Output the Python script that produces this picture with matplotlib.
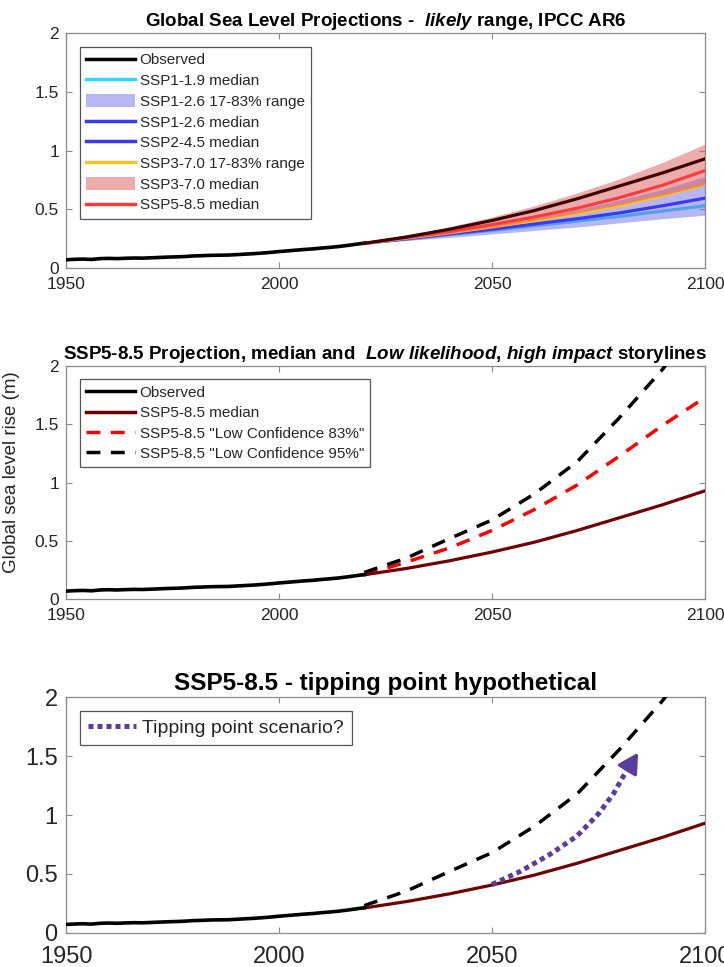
import matplotlib
matplotlib.use('Agg')
import matplotlib.pyplot as plt
from matplotlib.lines import Line2D
from matplotlib.patches import Patch

plt.rcParams['font.family'] = ['Liberation Sans', 'DejaVu Sans']
plt.rcParams['mathtext.fontset'] = 'custom'
plt.rcParams['mathtext.rm'] = 'Liberation Sans:bold'
plt.rcParams['mathtext.it'] = 'Liberation Sans:italic:bold'
plt.rcParams['mathtext.bf'] = 'Liberation Sans:bold'

# ---------------- data ----------------
obs_years = [1950, 1952, 1954, 1956, 1958, 1960, 1962, 1964, 1966, 1968, 1970, 1972,
             1974, 1976, 1978, 1980, 1982, 1984, 1986, 1988, 1990, 1992, 1994, 1996,
             1998, 2000, 2002, 2004, 2006, 2008, 2010, 2012, 2014, 2016, 2018, 2020]
obs_vals = [0.070, 0.074, 0.076, 0.073, 0.080, 0.082, 0.080, 0.083, 0.085, 0.084, 0.087, 0.090,
            0.093, 0.095, 0.098, 0.103, 0.105, 0.108, 0.109, 0.110, 0.114, 0.118, 0.122, 0.127,
            0.133, 0.140, 0.146, 0.152, 0.158, 0.163, 0.170, 0.176, 0.183, 0.192, 0.202, 0.212]

proj_years = [2020, 2030, 2040, 2050, 2060, 2070, 2080, 2090, 2100]
ssp119_med = [0.21, 0.245, 0.285, 0.32, 0.36, 0.40, 0.44, 0.485, 0.53]
ssp126_med = [0.21, 0.25, 0.29, 0.33, 0.375, 0.42, 0.47, 0.53, 0.595]
ssp245_med = [0.21, 0.255, 0.30, 0.35, 0.405, 0.465, 0.53, 0.615, 0.71]
ssp370_med = [0.21, 0.26, 0.31, 0.37, 0.435, 0.51, 0.60, 0.705, 0.83]
ssp585_med = [0.21, 0.265, 0.33, 0.405, 0.49, 0.59, 0.70, 0.81, 0.93]
ssp126_lo = [0.21, 0.235, 0.26, 0.29, 0.32, 0.35, 0.385, 0.42, 0.45]
ssp126_hi = [0.21, 0.26, 0.31, 0.37, 0.43, 0.50, 0.58, 0.67, 0.78]
ssp585_lo = [0.21, 0.25, 0.295, 0.345, 0.405, 0.47, 0.54, 0.62, 0.71]
ssp585_hi = [0.21, 0.275, 0.35, 0.435, 0.53, 0.64, 0.76, 0.90, 1.055]

lowconf83 = [0.21, 0.32, 0.44, 0.59, 0.77, 0.98, 1.23, 1.49, 1.73]
lowconf95 = [0.23, 0.355, 0.52, 0.68, 0.905, 1.18, 1.56, 1.97, 2.45]

tip_years = [2050, 2056.6, 2063.6, 2069.9, 2075, 2078.5, 2081, 2082.6]
tip_vals = [0.41, 0.52, 0.665, 0.82, 1.01, 1.18, 1.34, 1.43]
tip_arrow_end = (2084.3, 1.53)

xticks = [1950, 2000, 2050, 2100]
yticks = [0, 0.5, 1, 1.5, 2]
ytick_labels = ['0', '0.5', '1', '1.5', '2']

legend1_labels = ['Observed', 'SSP1-1.9 median', 'SSP1-2.6 17-83% range', 'SSP1-2.6 median',
                  'SSP2-4.5 median', 'SSP3-7.0 17-83% range', 'SSP3-7.0 median', 'SSP5-8.5 median']
legend2_labels = ['Observed', 'SSP5-8.5 median', 'SSP5-8.5 "Low Confidence 83%"',
                  'SSP5-8.5 "Low Confidence 95%"']
legend3_labels = ['Tipping point scenario?']

title1 = r'Global Sea Level Projections -  $\mathit{likely}$ range, IPCC AR6'
title2 = r'SSP5-8.5 Projection, median and  $\mathit{Low\ likelihood{,}\ high\ impact}$ storylines'
title3 = 'SSP5-8.5 - tipping point hypothetical'
ylabel = 'Global sea level rise (m)'

# ---------------- styles ----------------
c_cyan = '#33d6f5'
c_blue = '#3a3af5'
c_orange = '#ffc02a'
c_red = '#ff3b3b'
c_dark = '#3d0000'
c_band_blue = '#6e6ee6'
c_band_red = '#dc5a5a'
c_median = '#6e0000'
c_purple = '#5a3d9a'
spine_c = '#8c8c8c'
text_c = '#262626'

fig = plt.figure(figsize=(7.24, 9.67), dpi=100)
L, W = 66 / 724, 639 / 724
ax1 = fig.add_axes([L, 1 - 268 / 967, W, 234.7 / 967])
ax2 = fig.add_axes([L, 1 - 599.3 / 967, W, 233.3 / 967])
ax3 = fig.add_axes([L, 1 - 932.7 / 967, W, 235.4 / 967])


def style(ax, fs, xpad, ypad):
    ax.set_xlim(1950, 2100)
    ax.set_ylim(0, 2)
    ax.set_xticks(xticks)
    ax.set_yticks(yticks)
    ax.set_yticklabels(ytick_labels)
    ax.tick_params(direction='in', top=True, right=True, length=4, width=0.8,
                   color=spine_c, labelsize=fs, labelcolor=text_c)
    ax.tick_params(axis='x', pad=xpad)
    ax.tick_params(axis='y', pad=ypad)
    for s in ax.spines.values():
        s.set_color(spine_c)
        s.set_linewidth(0.9)


def leg(ax, handles, labels, fs, hl, ls):
    lg = ax.legend(handles, labels, loc='upper left', bbox_to_anchor=(0.022, 0.943),
                   borderaxespad=0, fontsize=fs, handlelength=hl, handletextpad=0.3,
                   labelspacing=ls, borderpad=0.4, fancybox=False, framealpha=1,
                   edgecolor='#555555', handleheight=0.9)
    lg.get_frame().set_linewidth(0.9)
    for t in lg.get_texts():
        t.set_color(text_c)
    return lg


# ---------------- panel 1 ----------------
ax1.plot(obs_years, obs_vals, color='black', lw=2.6, zorder=5)
ax1.plot(proj_years, ssp119_med, color=c_cyan, lw=2.3, zorder=2)
ax1.fill_between(proj_years, ssp126_lo, ssp126_hi, color=c_band_blue, alpha=0.5, lw=0, zorder=3)
ax1.plot(proj_years, ssp126_med, color=c_blue, lw=2.3, zorder=4)
ax1.plot(proj_years, ssp245_med, color=c_orange, lw=2.3, zorder=4)
ax1.fill_between(proj_years, ssp585_lo, ssp585_hi, color=c_band_red, alpha=0.5, lw=0, zorder=5)
ax1.plot(proj_years, ssp370_med, color=c_red, lw=2.3, zorder=6)
ax1.plot(proj_years, ssp585_med, color=c_dark, lw=2.3, zorder=7)
style(ax1, 12.5, 6.5, 5)
ax1.set_title(title1, fontsize=13.5, fontweight='bold', color='black', pad=5)
h1 = [Line2D([], [], color='black', lw=2.5),
      Line2D([], [], color=c_cyan, lw=2.5),
      Patch(facecolor=c_band_blue, alpha=0.5, lw=0),
      Line2D([], [], color=c_blue, lw=2.5),
      Line2D([], [], color=c_blue, lw=2.5),
      Line2D([], [], color=c_orange, lw=2.5),
      Patch(facecolor=c_band_red, alpha=0.5, lw=0),
      Line2D([], [], color=c_red, lw=2.5)]
leg(ax1, h1, legend1_labels, 11, 3.2, 0.4)

# ---------------- panel 2 ----------------
ax2.plot(obs_years, obs_vals, color='black', lw=2.6, zorder=5)
ax2.plot(proj_years, ssp585_med, color=c_median, lw=2.3, zorder=4)
ax2.plot(proj_years, lowconf83, color='red', lw=2.5, dashes=(4, 3), zorder=3)
ax2.plot(proj_years, lowconf95, color='black', lw=2.5, dashes=(4, 3), zorder=3)
style(ax2, 12.5, 6.5, 5)
ax2.set_title(title2, fontsize=13.5, fontweight='bold', color='black', pad=5)
ax2.set_ylabel(ylabel, fontsize=13.5, color=text_c)
ax2.yaxis.set_label_coords(-0.072, 0.546)
h2 = [Line2D([], [], color='black', lw=2.5),
      Line2D([], [], color=c_median, lw=2.5),
      Line2D([], [], color='red', lw=2.5, dashes=(4, 3)),
      Line2D([], [], color='black', lw=2.5, dashes=(4, 3))]
leg(ax2, h2, legend2_labels, 11, 3.2, 0.38)

# ---------------- panel 3 ----------------
ax3.plot(obs_years, obs_vals, color='black', lw=2.6, zorder=5)
ax3.plot(proj_years, ssp585_med, color=c_median, lw=2.3, zorder=4)
ax3.plot(proj_years, lowconf95, color='black', lw=2.5, dashes=(4, 3), zorder=3)
ax3.plot(tip_years, tip_vals, color=c_purple, lw=3.6, linestyle=(0, (1, 0.8)), zorder=6)
ax3.annotate('', xy=tip_arrow_end, xytext=(tip_years[-1], tip_vals[-1]),
             arrowprops=dict(arrowstyle='-|>,head_length=0.6,head_width=0.33',
                             mutation_scale=20, color=c_purple, lw=2.5,
                             shrinkA=0, shrinkB=0), zorder=6)
style(ax3, 17, 9.5, 6)
ax3.set_title(title3, fontsize=17.5, fontweight='bold', color='black', pad=5)
h3 = [Line2D([], [], color=c_purple, lw=3.6, linestyle=(0, (1, 0.8)))]
leg(ax3, h3, legend3_labels, 14, 2.5, 0.28)

fig.savefig('out.png', dpi=100, facecolor='white')
